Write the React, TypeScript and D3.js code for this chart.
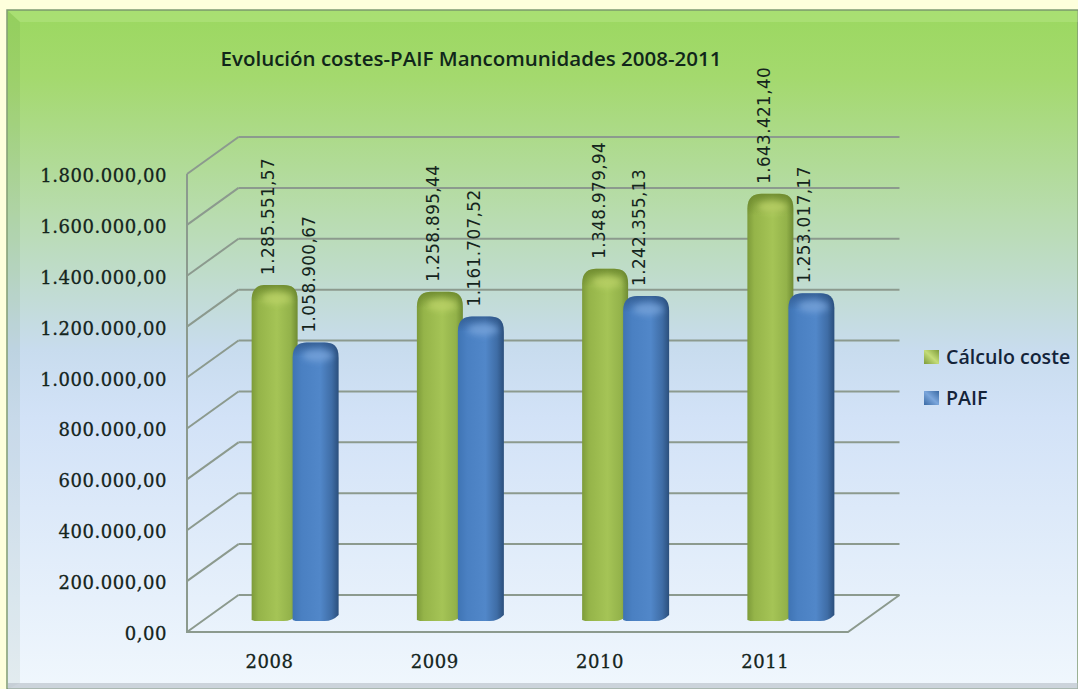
import React from "react";
import * as d3 from "d3";

const years = ["2008", "2009", "2010", "2011"];
const costValues = [1285551.57, 1258895.44, 1348979.94, 1643421.4];
const paifValues = [1058900.67, 1161707.52, 1242355.13, 1253017.17];
const yTicks = [0, 200000, 400000, 600000, 800000, 1000000, 1200000, 1400000, 1600000, 1800000];
const legendNames = ["Cálculo coste", "PAIF"];
const title = "Evolución costes-PAIF Mancomunidades 2008-2011";

const W = 1078, H = 689;
const frontLeft = 187, frontRight = 848, frontBase = 632, frontTop = 174;
const depthX = 51.5, depthY = 37;
const barBase = 620;
const barW = 46, barOverlap = 5, capH = 8;

const fmt = (v: number) => {
  const [i, d] = v.toFixed(2).split(".");
  return i.replace(/\B(?=(\d{3})+$)/g, ".") + "," + d;
};

const y = d3.scaleLinear().domain([0, 1800000]).range([frontBase, frontTop]);
const x = d3.scaleBand<string>().domain(years).range([frontLeft, frontRight]);
const grid = "#8c9a8e";
const tickFont = "DejaVu Serif";
const labelFont = "Verdana, DejaVu Sans";
const txt = "#14241c";

function barPath(cx: number, v: number) {
  const h = y(0) - y(v);
  const top = barBase - h - capH, l = cx - barW / 2, r = cx + barW / 2;
  const p = d3.path();
  p.moveTo(l, barBase);
  p.lineTo(l, top + 15);
  p.bezierCurveTo(l, top + 3, l + 7, top, l + 14, top);
  p.lineTo(r - 14, top);
  p.bezierCurveTo(r - 6, top, r, top + 3, r, top + 15);
  p.lineTo(r, barBase - 5);
  p.quadraticCurveTo(r - 6, barBase + 1, r - 14, barBase + 1);
  p.lineTo(l + 3, barBase + 1);
  p.closePath();
  return p.toString();
}

function Bar({ cx, v, s }: { cx: number; v: number; s: string }) {
  const d = barPath(cx, v);
  const top = barBase - (y(0) - y(v)) - capH;
  return (
    <g>
      <path d={d} fill={`url(#body-${s})`} />
      <path d={d} fill={`url(#fade-${s})`} />
      <ellipse cx={cx + 2} cy={top + 13} rx={15} ry={6} fill={s === "g" ? "#bfd66a" : "#7aa6dc"} opacity={0.75} filter="url(#soft)" />
    </g>
  );
}

export default function App() {
  const centre = (yr: string) => x(yr)! + x.bandwidth() / 2 + 26;
  const cGreen = (yr: string) => centre(yr) - (barW - barOverlap) / 2 - 0.5;
  const cBlue = (yr: string) => centre(yr) + (barW - barOverlap) / 2 - 0.5;
  const capTop = (v: number) => barBase - (y(0) - y(v)) - capH;
  return (
    <svg width={W} height={H} style={{ position: "absolute", left: 0, top: 0 }}>
      <defs>
        <linearGradient id="panel" x1="0" y1="0" x2="0" y2="1">
          <stop offset="0" stopColor="#9bd860" />
          <stop offset="0.1" stopColor="#a4d96e" />
          <stop offset="0.3" stopColor="#b8dcae" />
          <stop offset="0.5" stopColor="#c8dcee" />
          <stop offset="0.6" stopColor="#d2e2f7" />
          <stop offset="1" stopColor="#f0f7fd" />
        </linearGradient>
        <linearGradient id="body-g" x1="0" y1="0" x2="1" y2="0">
          <stop offset="0" stopColor="#7d9b3a" />
          <stop offset="0.15" stopColor="#95b449" />
          <stop offset="0.55" stopColor="#a5c456" />
          <stop offset="0.85" stopColor="#93b24a" />
          <stop offset="1" stopColor="#6f8c33" />
        </linearGradient>
        <linearGradient id="body-b" x1="0" y1="0" x2="1" y2="0">
          <stop offset="0" stopColor="#3f74b4" />
          <stop offset="0.2" stopColor="#4a80c2" />
          <stop offset="0.6" stopColor="#5187c9" />
          <stop offset="0.85" stopColor="#3f6da6" />
          <stop offset="1" stopColor="#2b4f7c" />
        </linearGradient>
        <linearGradient id="fade-g" x1="0" y1="0" x2="0" y2="1">
          <stop offset="0" stopColor="#5f7a25" stopOpacity="0.7" />
          <stop offset="0.05" stopColor="#5f7a25" stopOpacity="0" />
          <stop offset="1" stopColor="#5f7a25" stopOpacity="0" />
        </linearGradient>
        <linearGradient id="fade-b" x1="0" y1="0" x2="0" y2="1">
          <stop offset="0" stopColor="#274a78" stopOpacity="0.6" />
          <stop offset="0.05" stopColor="#274a78" stopOpacity="0" />
          <stop offset="1" stopColor="#274a78" stopOpacity="0" />
        </linearGradient>
        <linearGradient id="sw-g" x1="0" y1="1" x2="1" y2="0">
          <stop offset="0" stopColor="#7d9b3a" />
          <stop offset="0.5" stopColor="#c4dc78" />
          <stop offset="1" stopColor="#7d9b3a" />
        </linearGradient>
        <linearGradient id="sw-b" x1="0" y1="1" x2="1" y2="0">
          <stop offset="0" stopColor="#3a6aa4" />
          <stop offset="0.5" stopColor="#7ba6dc" />
          <stop offset="1" stopColor="#3a6aa4" />
        </linearGradient>
        <filter id="soft" x="-50%" y="-100%" width="200%" height="300%">
          <feGaussianBlur stdDeviation="3" />
        </filter>
      </defs>

      <rect width={W} height={H} fill="#feffdc" />
      <rect x={7} y={10} width={W - 7} height={H - 10} fill="url(#panel)" stroke="#7f9a72" strokeWidth={1.5} />
      <polygon points={`8,11 ${W},11 ${W},22 20,22`} fill="#c8f09a" opacity={0.3} />
      <polygon points={`8,11 20,22 20,${H - 6} 8,${H}`} fill="#3c6a3c" opacity={0.07} />
      <rect x={8} y={683} width={W - 8} height={6} fill="#b4bcc4" opacity={0.6} />

      <text x={471} y={66} textAnchor="middle" fontFamily="Open Sans" fontWeight={600} fontSize={20.5} fill="#10261a">{title}</text>

      {yTicks.map((t) => (
        <g key={t}>
          {t > 0 && <line x1={frontLeft} y1={y(t)} x2={frontLeft + depthX} y2={y(t) - depthY} stroke={grid} strokeWidth={2} />}
          <line x1={frontLeft + depthX} y1={y(t) - depthY} x2={frontRight + depthX} y2={y(t) - depthY} stroke={grid} strokeWidth={2} />
          <text x={167} y={y(t) + 8} textAnchor="end" fontFamily={tickFont} fontSize={18} letterSpacing={0.55} stroke={txt} strokeWidth={0.3} fill={txt}>{fmt(t)}</text>
        </g>
      ))}
      <path
        d={`M${frontLeft},${y(1800000)}V${y(0)}H${frontRight}L${frontRight + depthX},${y(0) - depthY}M${frontLeft},${y(0)}L${frontLeft + depthX},${y(0) - depthY}`}
        fill="none"
        stroke={grid}
        strokeWidth={2}
      />

      {years.map((yr, i) => (
        <g key={yr}>
          <Bar cx={cGreen(yr)} v={costValues[i]} s="g" />
          <Bar cx={cBlue(yr)} v={paifValues[i]} s="b" />
          <text
            transform={`translate(${cGreen(yr) - 0.5},${capTop(costValues[i]) - 10}) rotate(-90)`}
            fontFamily={labelFont}
            fontSize={16.8}
            letterSpacing={0.4}
            fill={txt}
          >{fmt(costValues[i])}</text>
          <text
            transform={`translate(${cBlue(yr) - 1},${capTop(paifValues[i]) - 10}) rotate(-90)`}
            fontFamily={labelFont}
            fontSize={16.8}
            letterSpacing={0.4}
            fill={txt}
          >{fmt(paifValues[i])}</text>
          <text x={x(yr)! + x.bandwidth() / 2} y={668} textAnchor="middle" fontFamily={tickFont} fontSize={18} letterSpacing={0.55} stroke={txt} strokeWidth={0.3} fill={txt}>{yr}</text>
        </g>
      ))}

      {legendNames.map((n, i) => (
        <g key={n}>
          <rect x={924} y={350 + i * 41} width={15} height={14} fill={`url(#sw-${i === 0 ? "g" : "b"})`} />
          <text x={946} y={364 + i * 41} fontFamily="Open Sans" fontWeight={600} fontSize={19.6} fill="#14243a">{n}</text>
        </g>
      ))}
    </svg>
  );
}
